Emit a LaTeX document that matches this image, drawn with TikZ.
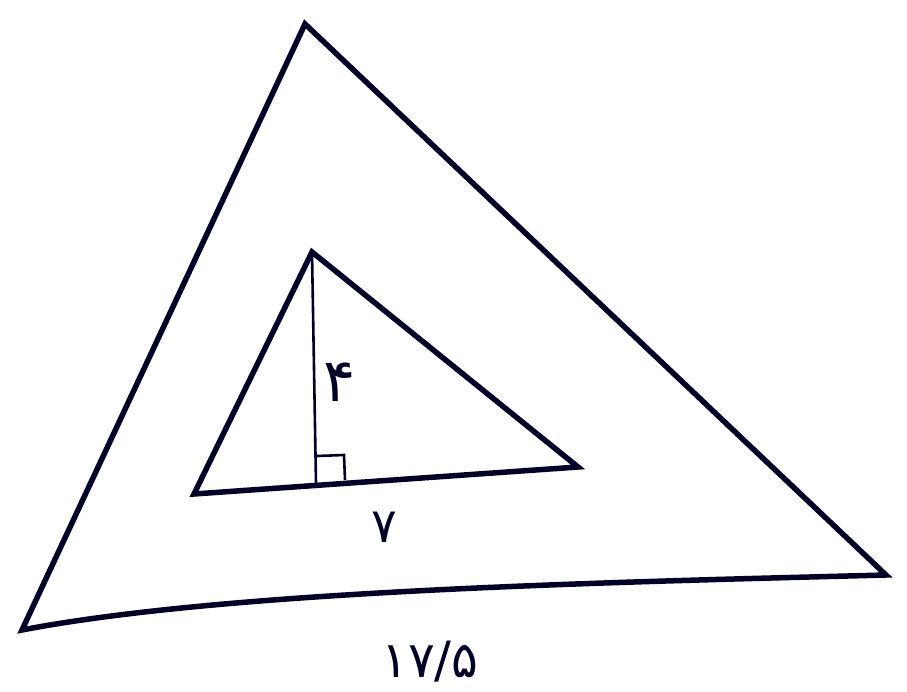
\documentclass[tikz,border=0pt]{standalone}
\usepackage{fontspec}
\newfontfamily\arabicfont[Script=Arabic]{DejaVu Sans}
\begin{document}
\begin{tikzpicture}[x=1pt,y=-1pt,
  thick edge/.style={line width=5.5pt,line join=miter,color=black!85!blue},
  thin edge/.style={line width=2.6pt,color=black!85!blue},
  lbl/.style={font=\arabicfont\fontsize{48}{50}\selectfont,inner sep=0pt,text=black!85!blue}]
\useasboundingbox[fill=white] (0,0) rectangle (907,692);
% outer triangle
\coordinate (A) at (305,24);
\coordinate (B) at (22,630);
\coordinate (C) at (886,575);
\draw[thick edge] (A) -- (C) .. controls (620,582) and (230,590) .. (B) -- cycle;
% inner triangle
\coordinate (P) at (312,252);
\coordinate (Q) at (194,494);
\coordinate (R) at (578,467);
\coordinate (H) at (316,484);
\draw[thick edge] (P) -- (R) -- (Q) -- cycle;
\draw[thin edge] (P) -- (H);
\draw[thin edge] (317,456) -- (344,455) -- (345,480);
% labels
\node[lbl,font=\arabicfont\fontsize{60}{62}\selectfont] (four) at (340,382) {۴};
\node[lbl] (seven) at (384,527) {۷};
\node[lbl,font=\arabicfont\fontsize{50}{52}\selectfont] (base) at (430,662) {۱۷/۵};
\end{tikzpicture}
\end{document}
